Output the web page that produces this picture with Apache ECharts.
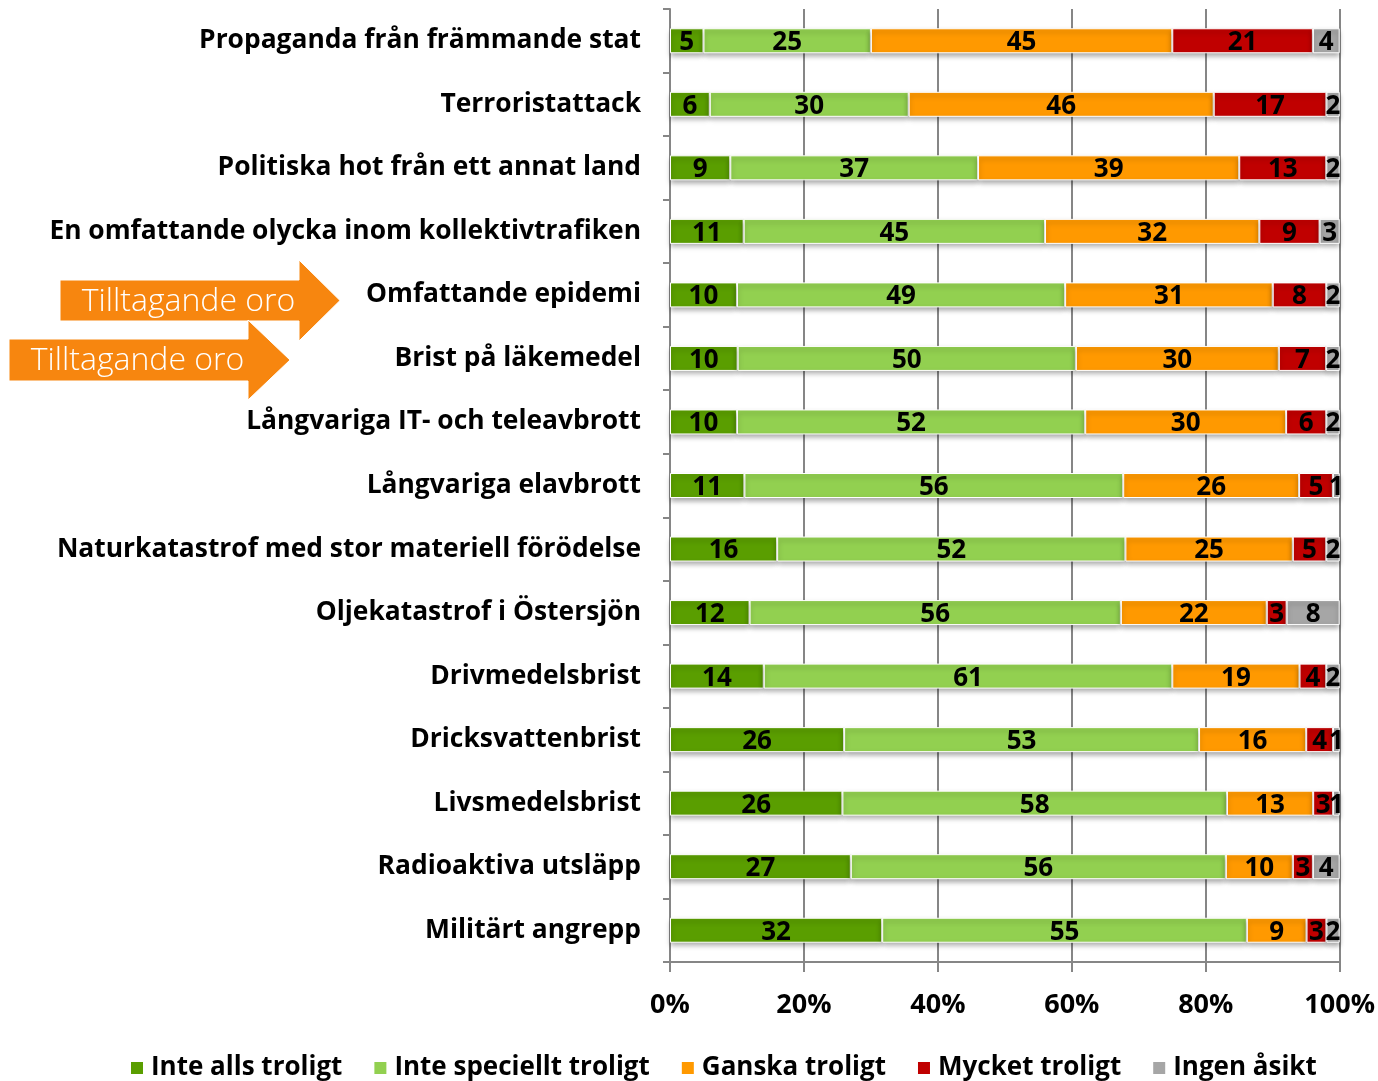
<!DOCTYPE html>
<html>
<head>
<meta charset="utf-8">
<script src="https://cdn.jsdelivr.net/npm/echarts@6/dist/echarts.min.js"></script>
<style>
  html, body { margin: 0; padding: 0; background: #fff; }
  #chart { width: 1378px; height: 1081px; }
</style>
</head>
<body>
<div id="chart"></div>
<script>
// categories top to bottom
var categories = [
  'Propaganda från främmande stat',
  'Terroristattack',
  'Politiska hot från ett annat land',
  'En omfattande olycka inom kollektivtrafiken',
  'Omfattande epidemi',
  'Brist på läkemedel',
  'Långvariga IT- och teleavbrott',
  'Långvariga elavbrott',
  'Naturkatastrof med stor materiell förödelse',
  'Oljekatastrof i Östersjön',
  'Drivmedelsbrist',
  'Dricksvattenbrist',
  'Livsmedelsbrist',
  'Radioaktiva utsläpp',
  'Militärt angrepp'
];

var inteAlls      = [5, 6, 9, 11, 10, 10, 10, 11, 16, 12, 14, 26, 26, 27, 32];
var inteSpeciellt = [25, 30, 37, 45, 49, 50, 52, 56, 52, 56, 61, 53, 58, 56, 55];
var ganska        = [45, 46, 39, 32, 31, 30, 30, 26, 25, 22, 19, 16, 13, 10, 9];
var mycket        = [21, 17, 13, 9, 8, 7, 6, 5, 5, 3, 4, 4, 3, 3, 3];
var ingenAsikt    = [4, 2, 2, 3, 2, 2, 2, 1, 2, 8, 2, 1, 1, 4, 2];

var seriesNames = ['Inte alls troligt', 'Inte speciellt troligt', 'Ganska troligt', 'Mycket troligt', 'Ingen åsikt'];
var seriesColors = ['#5a9e00', '#92d050', '#ff9900', '#c00000', '#a6a6a6'];
var xTicks = [0, 20, 40, 60, 80, 100];

var allValues = [inteAlls, inteSpeciellt, ganska, mycket, ingenAsikt];

// 100% stacked: each row scaled to its own total, labels keep the read values
var totals = categories.map(function(c, i) {
  var s = 0;
  allValues.forEach(function(arr) { s += arr[i]; });
  return s;
});

var mainFont = "'Open Sans', sans-serif";

var series = allValues.map(function(arr, k) {
  return {
    name: seriesNames[k],
    type: 'bar',
    stack: 'total',
    barWidth: 25,
    clip: false,
    data: arr.map(function(v, i) {
      return { value: v / totals[i] * 100, raw: v };
    }),
    itemStyle: {
      color: seriesColors[k],
      borderColor: '#ffffff',
      borderWidth: 1,
      shadowColor: 'rgba(0,0,0,0.35)',
      shadowBlur: 5,
      shadowOffsetY: 3
    },
    label: {
      show: true,
      position: 'inside',
      offset: [0, 2],
      color: '#000',
      fontFamily: mainFont,
      fontWeight: 'bold',
      fontSize: 26,
      formatter: function(p) { return p.data.raw; }
    }
  };
});

function arrow(x, y, w, h, headW, headH, text) {
  var mid = y + h / 2;
  return {
    type: 'group',
    children: [
      {
        type: 'polygon',
        shape: {
          points: [
            [x, y], [x + w, y], [x + w, mid - headH / 2], [x + w + headW, mid],
            [x + w, mid + headH / 2], [x + w, y + h], [x, y + h]
          ]
        },
        style: { fill: '#f7860f', stroke: '#ffffff', lineWidth: 1 }
      },
      {
        type: 'text',
        x: x + w / 2 + 9,
        y: mid + 1,
        style: {
          text: text,
          fill: '#ffffff',
          font: '300 32px ' + mainFont,
          align: 'center',
          verticalAlign: 'middle'
        }
      }
    ]
  };
}

var chart = echarts.init(document.getElementById('chart'));
chart.setOption({
  animation: false,
  grid: { left: 670, right: 38, top: 9, bottom: 119 },
  legend: {
    data: seriesNames,
    left: 124,
    top: 1050,
    itemWidth: 14,
    itemHeight: 14,
    itemGap: 30,
    icon: 'rect',
    textStyle: {
      fontFamily: mainFont,
      fontWeight: 'bold',
      fontSize: 26,
      color: '#000',
      padding: [0, 0, 0, 2]
    }
  },
  xAxis: {
    type: 'value',
    min: 0,
    max: 100,
    interval: 20,
    axisLine: { show: true, lineStyle: { color: '#868686', width: 2 } },
    axisTick: { show: true, length: 10, lineStyle: { color: '#868686', width: 2 } },
    splitLine: { show: true, lineStyle: { color: '#868686', width: 2 } },
    axisLabel: {
      margin: 30,
      color: '#000',
      fontFamily: mainFont,
      fontWeight: 'bold',
      fontSize: 27,
      formatter: function(v) { return xTicks.indexOf(v) >= 0 ? v + '%' : ''; }
    }
  },
  yAxis: {
    type: 'category',
    inverse: true,
    data: categories,
    offset: 3,
    axisLine: { show: true, lineStyle: { color: '#868686', width: 2 } },
    axisTick: { show: true, length: 7, lineStyle: { color: '#868686', width: 2 } },
    axisLabel: {
      margin: 26,
      color: '#000',
      fontFamily: mainFont,
      fontWeight: 'bold',
      fontSize: 26.4
    }
  },
  series: series,
  graphic: [
    arrow(60, 280, 239, 41, 41, 81, 'Tilltagande oro'),
    arrow(9, 339, 239, 42, 42, 80, 'Tilltagande oro')
  ]
});
</script>
</body>
</html>
